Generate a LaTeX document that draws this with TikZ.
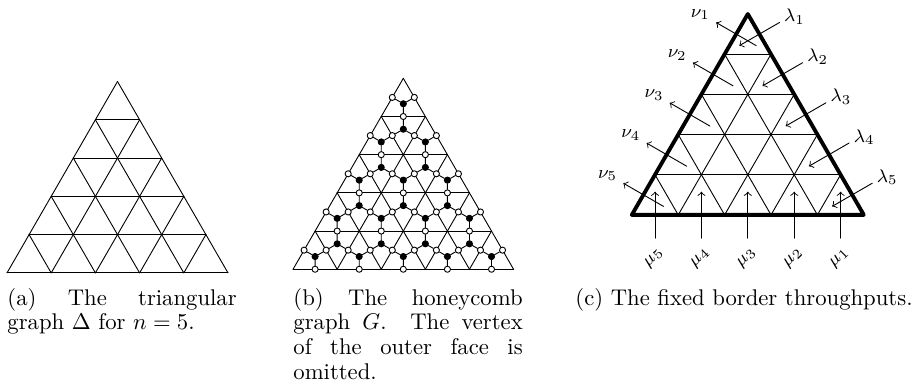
\documentclass[tikz,border=0pt]{standalone}

\tikzset{
  wvert/.style={circle, draw, fill=white, inner sep=0pt, minimum size=2.7pt},
  bvert/.style={circle, draw, fill=black, inner sep=0pt, minimum size=2.7pt},
  flow/.style={thin, ->},
  blabel/.style={font=\footnotesize, inner sep=0pt},
  capnode/.style={anchor=base west, inner sep=0pt}
}

\begin{document}
\begin{tikzpicture}[
            x=0.4405pt,
            y=-0.4405pt,
            line cap=round,
            line join=round
        ]
    \useasboundingbox (0,0) rectangle (917,385);

    % (a) triangular graph
    \begin{scope}[shift={(117.5,81.5)}]
        \def\s{44.2}
        \def\h{38.28}
        \foreach \i in {1,...,5}
            \draw (-\i*\s/2,\i*\h) -- (\i*\s/2,\i*\h);
        \foreach \j in {0,...,4}{
            \draw (\j*\s/2,\j*\h) -- ({(\j-2.5)*\s},5*\h);
            \draw (-\j*\s/2,\j*\h) -- ({(2.5-\j)*\s},5*\h);
        }
    \end{scope}

    % (b) honeycomb graph
    \begin{scope}[shift={(403.3,78.3)}]
        \def\s{44.1}
        \def\h{38.19}
        \foreach \i in {1,...,5}
            \draw (-\i*\s/2,\i*\h) -- (\i*\s/2,\i*\h);
        \foreach \j in {0,...,4}{
            \draw (\j*\s/2,\j*\h) -- ({(\j-2.5)*\s},5*\h);
            \draw (-\j*\s/2,\j*\h) -- ({(2.5-\j)*\s},5*\h);
        }

        % white vertices on the edges
        \foreach \i in {0,...,4}
            \foreach \j in {0,...,\i}{
                \node[wvert] (l-\i-\j) at ({(\j-\i/2-0.25)*\s},{(\i+0.5)*\h}) {};
                \node[wvert] (r-\i-\j) at ({(\j-\i/2+0.25)*\s},{(\i+0.5)*\h}) {};
            }
        \foreach \i in {1,...,5}{
            \pgfmathtruncatemacro\m{\i-1}
            \foreach \j in {0,...,\m}
                \node[wvert] (h-\i-\j) at ({(\j-\i/2+0.5)*\s},\i*\h) {};
        }

        % black vertices in the faces
        \foreach \i in {0,...,4}
            \foreach \j in {0,...,\i}
                \node[bvert] (u-\i-\j) at ({(\j-\i/2)*\s},{(\i+2/3)*\h}) {};
        \foreach \i in {1,...,4}{
            \pgfmathtruncatemacro\m{\i-1}
            \foreach \j in {0,...,\m}
                \node[bvert] (d-\i-\j) at ({(\j-\i/2+0.5)*\s},{(\i+1/3)*\h}) {};
        }

        % honeycomb edges
        \foreach \i in {0,...,4}{
            \pgfmathtruncatemacro\k{\i+1}
            \foreach \j in {0,...,\i}
                \draw (u-\i-\j) -- (h-\k-\j) (u-\i-\j) -- (l-\i-\j)
                      (u-\i-\j) -- (r-\i-\j);
        }
        \foreach \i in {1,...,4}{
            \pgfmathtruncatemacro\m{\i-1}
            \foreach \j in {0,...,\m}{
                \pgfmathtruncatemacro\jj{\j+1}
                \draw (d-\i-\j) -- (h-\i-\j) (d-\i-\j) -- (r-\i-\j)
                      (d-\i-\j) -- (l-\i-\jj);
            }
        }
    \end{scope}

    % (c) border throughputs
    \begin{scope}[shift={(747.8,14)}]
        \def\s{46.4}
        \def\h{40.18}
        \foreach \i in {1,...,5}
            \draw (-\i*\s/2,\i*\h) -- (\i*\s/2,\i*\h);
        \foreach \j in {1,...,4}{
            \draw (\j*\s/2,\j*\h) -- ({(\j-2.5)*\s},5*\h);
            \draw (-\j*\s/2,\j*\h) -- ({(2.5-\j)*\s},5*\h);
        }

        % nu: out through the left side
        \foreach \i in {1,...,5}{
            \coordinate (nus\i) at ({-(\i-0.5)*\s/2+0.433*\s},{(\i-0.5)*\h+0.25*\s});
            \coordinate (nue\i) at ({-(\i-0.5)*\s/2-0.433*\s},{(\i-0.5)*\h-0.25*\s});
            \draw[flow] (nus\i) -- (nue\i);
            \node[blabel] (nulab\i) at ({-(\i-0.5)*\s/2-0.433*\s-15.7},{(\i-0.5)*\h-0.25*\s-7.8}) {$\nu_{\i}$};
        }

        % lambda: in through the right side
        \foreach \i in {1,...,5}{
            \coordinate (las\i) at ({(\i-0.5)*\s/2+0.433*\s},{(\i-0.5)*\h-0.25*\s});
            \coordinate (lae\i) at ({(\i-0.5)*\s/2-0.433*\s},{(\i-0.5)*\h+0.25*\s});
            \draw[flow] (las\i) -- (lae\i);
            \node[blabel] (lalab\i) at ({(\i-0.5)*\s/2+0.433*\s+15},{(\i-0.5)*\h-0.25*\s-6}) {$\lambda_{\i}$};
        }

        % mu: in through the bottom side
        \foreach \m in {0,...,4}{
            \pgfmathtruncatemacro\k{5-\m}
            \coordinate (mus\k) at ({(\m-2)*\s},{5*\h+\s/2});
            \coordinate (mue\k) at ({(\m-2)*\s},{5*\h-\s/2});
            \draw[flow] (mus\k) -- (mue\k);
            \node[blabel, rotate=45] (mulab\k) at ({(\m-2)*\s-1},{5*\h+\s/2+20}) {$\mu_{\k}$};
        }

        % outer border
        \draw[line width=1.7pt] (0,0) -- (-2.5*\s,5*\h) -- (2.5*\s,5*\h) -- cycle;
    \end{scope}

    % captions
    \node[capnode] (capa) at (7,305) {\parbox[t]{101pt}{\fontsize{10}{11}\selectfont
        \hyphenpenalty=10000
        (a) The triangular\linebreak graph $\Delta$ for $n=5$.}};
    \node[capnode] (capb) at (293,305) {\parbox[t]{101pt}{\fontsize{10}{11}\selectfont
        \hyphenpenalty=10000
        (b) The honeycomb\linebreak graph $G$. The vertex\linebreak
        of the outer face is\linebreak omitted.}};
    \node[anchor=base, inner sep=0pt] (capc) at (744,305) {(c) The fixed border throughputs.};

\end{tikzpicture}
\end{document}
